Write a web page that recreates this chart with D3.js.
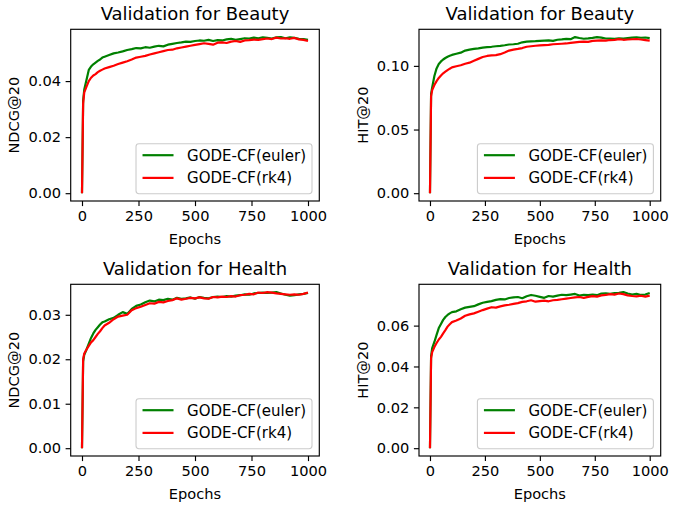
<!DOCTYPE html>
<html>
<head>
<meta charset="utf-8">
<script src="https://cdn.jsdelivr.net/npm/d3@7/dist/d3.min.js"></script>
<style>
  html, body { margin: 0; padding: 0; background: #fff; }
  svg { display: block; font-family: "DejaVu Sans", sans-serif; }
</style>
</head>
<body>
<svg id="chart" width="673" height="505"></svg>
<script>
// ---------------- DATA ----------------
const epochs = [0,5,10,20,30,40,50,60,70,80,90,100,120,140,160,180,200,220,240,260,280,300,320,340,360,380,400,420,440,460,480,500,520,540,560,580,600,620,640,660,680,700,720,740,760,780,800,820,840,860,880,900,920,940,960,980,1000];

const seriesNames = ["GODE-CF(euler)", "GODE-CF(rk4)"];
const xTicks = [0, 250, 500, 750, 1000];

const beautyNdcgEuler = [0,0.0330,0.0370,0.0405,0.0440,0.0452,0.0460,0.0466,0.0472,0.0477,0.0484,0.0487,0.0493,0.0499,0.0502,0.0506,0.0511,0.0514,0.0518,0.0517,0.0521,0.0519,0.0523,0.0526,0.0524,0.0530,0.0533,0.0536,0.0538,0.0541,0.0540,0.0543,0.0545,0.0544,0.0547,0.0543,0.0546,0.0545,0.0549,0.0551,0.0547,0.0550,0.0553,0.0552,0.0555,0.0553,0.0556,0.0554,0.0552,0.0556,0.0557,0.0553,0.0556,0.0554,0.0551,0.0550,0.0547];
const beautyNdcgRk4 = [0,0.0320,0.0360,0.0380,0.0400,0.0412,0.0420,0.0425,0.0432,0.0437,0.0441,0.0445,0.0450,0.0455,0.0461,0.0466,0.0471,0.0477,0.0484,0.0487,0.0490,0.0495,0.0499,0.0503,0.0507,0.0511,0.0512,0.0517,0.0520,0.0523,0.0526,0.0529,0.0532,0.0535,0.0533,0.0530,0.0537,0.0538,0.0536,0.0541,0.0543,0.0540,0.0545,0.0546,0.0548,0.0547,0.0550,0.0552,0.0550,0.0555,0.0552,0.0553,0.0551,0.0554,0.0549,0.0547,0.0543];

const beautyHitEuler = [0,0.0780,0.0830,0.0920,0.0980,0.1015,0.1035,0.1050,0.1062,0.1072,0.1080,0.1086,0.1095,0.1104,0.1120,0.1128,0.1133,0.1138,0.1144,0.1147,0.1150,0.1154,0.1157,0.1162,0.1168,0.1170,0.1174,0.1185,0.1190,0.1192,0.1194,0.1197,0.1199,0.1201,0.1196,0.1205,0.1208,0.1212,0.1210,0.1226,0.1219,0.1213,0.1216,0.1220,0.1226,0.1222,0.1215,0.1214,0.1212,0.1216,0.1214,0.1218,0.1222,0.1225,0.1221,0.1223,0.1218];
const beautyHitRk4 = [0,0.0760,0.0810,0.0850,0.0880,0.0905,0.0925,0.0942,0.0955,0.0967,0.0978,0.0988,0.0997,0.1005,0.1017,0.1025,0.1040,0.1055,0.1070,0.1078,0.1082,0.1085,0.1092,0.1105,0.1120,0.1128,0.1133,0.1140,0.1150,0.1154,0.1158,0.1161,0.1163,0.1165,0.1170,0.1172,0.1174,0.1176,0.1180,0.1184,0.1188,0.1191,0.1189,0.1196,0.1199,0.1201,0.1198,0.1203,0.1204,0.1210,0.1205,0.1207,0.1209,0.1211,0.1207,0.1203,0.1199];

const healthNdcgEuler = [0,0.0195,0.0210,0.0222,0.0235,0.0248,0.0258,0.0266,0.0272,0.0278,0.0283,0.0285,0.0290,0.0293,0.0300,0.0306,0.0302,0.0313,0.0320,0.0323,0.0328,0.0332,0.0330,0.0334,0.0333,0.0336,0.0334,0.0338,0.0336,0.0337,0.0339,0.0336,0.0340,0.0338,0.0337,0.0340,0.0341,0.0340,0.0342,0.0341,0.0343,0.0344,0.0346,0.0345,0.0348,0.0349,0.0350,0.0349,0.0350,0.0351,0.0348,0.0345,0.0343,0.0344,0.0346,0.0347,0.0349];
const healthNdcgRk4 = [0,0.0200,0.0213,0.0222,0.0230,0.0238,0.0243,0.0250,0.0257,0.0263,0.0270,0.0276,0.0282,0.0290,0.0296,0.0298,0.0300,0.0310,0.0315,0.0318,0.0322,0.0326,0.0325,0.0329,0.0328,0.0331,0.0333,0.0337,0.0334,0.0336,0.0338,0.0337,0.0339,0.0337,0.0336,0.0340,0.0339,0.0341,0.0340,0.0342,0.0341,0.0344,0.0345,0.0347,0.0346,0.0350,0.0349,0.0351,0.0350,0.0348,0.0347,0.0346,0.0345,0.0346,0.0345,0.0347,0.0350];

const healthHitEuler = [0,0.0450,0.0490,0.0520,0.0555,0.0588,0.0608,0.0628,0.0642,0.0652,0.0660,0.0666,0.0670,0.0680,0.0688,0.0692,0.0695,0.0704,0.0712,0.0716,0.0720,0.0726,0.0730,0.0728,0.0735,0.0738,0.0740,0.0734,0.0744,0.0750,0.0746,0.0741,0.0736,0.0745,0.0742,0.0747,0.0751,0.0749,0.0752,0.0755,0.0747,0.0751,0.0749,0.0752,0.0749,0.0757,0.0758,0.0756,0.0759,0.0760,0.0764,0.0757,0.0752,0.0755,0.0750,0.0752,0.0760];
const healthHitRk4 = [0,0.0440,0.0470,0.0495,0.0515,0.0532,0.0545,0.0562,0.0578,0.0595,0.0607,0.0617,0.0625,0.0635,0.0648,0.0655,0.0660,0.0668,0.0676,0.0683,0.0690,0.0688,0.0694,0.0699,0.0702,0.0706,0.0710,0.0716,0.0719,0.0724,0.0717,0.0720,0.0722,0.0719,0.0724,0.0726,0.0729,0.0732,0.0735,0.0738,0.0740,0.0736,0.0741,0.0744,0.0742,0.0748,0.0750,0.0754,0.0752,0.0757,0.0754,0.0748,0.0745,0.0743,0.0746,0.0742,0.0747];

const titles = ["Validation for Beauty", "Validation for Beauty", "Validation for Health", "Validation for Health"];
const yLabels = ["NDCG@20", "HIT@20", "NDCG@20", "HIT@20"];
const yTicksList = [[0, 0.02, 0.04], [0, 0.05, 0.10], [0, 0.01, 0.02, 0.03], [0, 0.02, 0.04, 0.06]];
const panelSeries = [
  [beautyNdcgEuler, beautyNdcgRk4],
  [beautyHitEuler, beautyHitRk4],
  [healthNdcgEuler, healthNdcgRk4],
  [healthHitEuler, healthHitRk4]
];
const seriesColors = ["#008000", "#ff0000"];

// ---------------- LAYOUT ----------------
const boxes = [
  {x0: 70.7, x1: 319.3, y0: 29.3, y1: 201},
  {x0: 419, x1: 660.7, y0: 29.3, y1: 201},
  {x0: 70.7, x1: 319.3, y0: 284.3, y1: 456},
  {x0: 419, x1: 660.7, y0: 284.3, y1: 456}
];
const FS = 14.6, LFS = 15, TFS = 18, LW = 2.2, SPW = 1.15, TL = 5.1;

const svg = d3.select("#chart");

panelSeries.forEach((series, i) => {
  const b = boxes[i];
  const g = svg.append("g");
  const xMin = d3.min(epochs), xMax = d3.max(epochs);
  const xPad = (xMax - xMin) * 0.05;
  const x = d3.scaleLinear().domain([xMin - xPad, xMax + xPad]).range([b.x0, b.x1]);
  const all = series.flat();
  const yMin = d3.min(all), yMax = d3.max(all);
  const yPad = (yMax - yMin) * 0.05;
  const y = d3.scaleLinear().domain([yMin - yPad, yMax + yPad]).range([b.y1, b.y0]);

  const clipId = "clip" + i;
  svg.append("clipPath").attr("id", clipId).append("rect")
    .attr("x", b.x0).attr("y", b.y0).attr("width", b.x1 - b.x0).attr("height", b.y1 - b.y0);

  const line = d3.line().x((d, k) => x(epochs[k])).y(d => y(d));
  series.forEach((s, si) => {
    g.append("path").datum(s)
      .attr("d", line)
      .attr("fill", "none")
      .attr("stroke", seriesColors[si])
      .attr("stroke-width", LW)
      .attr("stroke-linejoin", "round")
      .attr("clip-path", `url(#${clipId})`);
  });

  // axes
  const xAxis = d3.axisBottom(x).tickValues(xTicks).tickSize(TL).tickPadding(4.2).tickFormat(d3.format("d"));
  const gx = g.append("g").attr("transform", `translate(0,${b.y1})`).call(xAxis);
  const yAxis = d3.axisLeft(y).tickValues(yTicksList[i]).tickSize(TL).tickPadding(4.6).tickFormat(d3.format(".2f"));
  const gy = g.append("g").attr("transform", `translate(${b.x0},0)`).call(yAxis);
  [gx, gy].forEach(ax => {
    ax.select(".domain").remove();
    ax.selectAll(".tick line").attr("stroke", "#000").attr("stroke-width", SPW);
    ax.selectAll(".tick text").attr("fill", "#000").style("font-size", FS + "px")
      .style("font-family", '"DejaVu Sans", sans-serif');
  });

  // spines
  g.append("rect").attr("x", b.x0).attr("y", b.y0)
    .attr("width", b.x1 - b.x0).attr("height", b.y1 - b.y0)
    .attr("fill", "none").attr("stroke", "#000").attr("stroke-width", SPW);

  // title
  g.append("text").attr("x", (b.x0 + b.x1) / 2).attr("y", b.y0 - 9)
    .attr("text-anchor", "middle").style("font-size", TFS + "px").attr("fill", "#000")
    .text(titles[i]);
  // x label
  g.append("text").attr("x", (b.x0 + b.x1) / 2).attr("y", b.y1 + 42.5)
    .attr("text-anchor", "middle").style("font-size", FS + "px").attr("fill", "#000")
    .text("Epochs");
  // y label
  const ylx = b.x0 - 51.5;
  const yly = (b.y0 + b.y1) / 2;
  g.append("text").attr("transform", `translate(${ylx},${yly}) rotate(-90)`)
    .attr("text-anchor", "middle").style("font-size", FS + "px").attr("fill", "#000")
    .text(yLabels[i]);

  // legend (lower right)
  const lg = g.append("g");
  const pad = 7.3;
  const rowH = 22.7;
  const texts = seriesNames.map((n, si) => lg.append("text").style("font-size", LFS + "px").attr("fill", "#000").text(n));
  const tw = d3.max(texts, t => t.node().getComputedTextLength());
  const handleStart = 6.5, handleLen = 31, textGap = 13.5;
  const bw = handleStart + handleLen + textGap + tw + 6;
  const bh = 50;
  const bx = b.x1 - pad - bw, by = b.y1 - pad - bh;
  lg.insert("rect", ":first-child").attr("x", bx).attr("y", by).attr("width", bw).attr("height", bh)
    .attr("rx", 2.9).attr("fill", "#fff").attr("fill-opacity", 0.8)
    .attr("stroke", "#cccccc").attr("stroke-width", 1.1);
  seriesNames.forEach((n, si) => {
    const cy = by + 11.5 + si * rowH;
    lg.append("line").attr("x1", bx + handleStart).attr("x2", bx + handleStart + handleLen)
      .attr("y1", cy).attr("y2", cy).attr("stroke", seriesColors[si]).attr("stroke-width", LW);
    texts[si].attr("x", bx + handleStart + handleLen + textGap).attr("y", cy + 5.3);
  });
});
</script>
</body>
</html>
